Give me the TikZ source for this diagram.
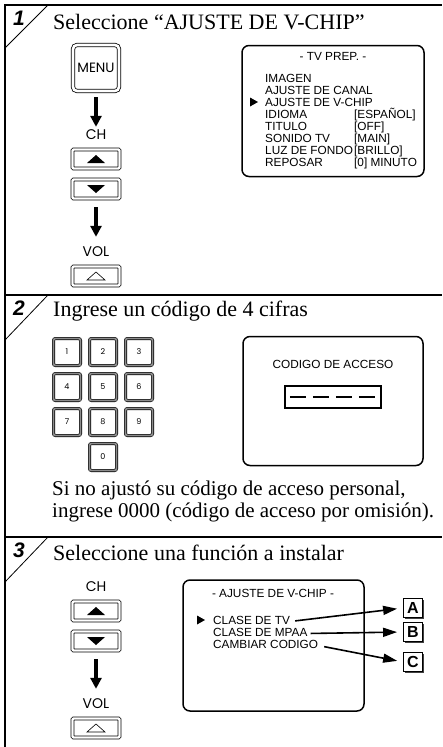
\documentclass[tikz,border=0pt]{standalone}
\usepackage{fontspec}
\setmainfont{Liberation Serif}
\setsansfont{Liberation Sans}
\newfontfamily\keyfont{Poppins}
\usepackage{tikz}
\usetikzlibrary{arrows.meta,positioning,shadows}

\begin{document}
\begin{tikzpicture}[x=1pt, y=-1pt,
frame/.style={line width=1.8pt},
slash/.style={line width=0.8pt},
stepno/.style={inner sep=0pt, font=\sffamily\bfseries\itshape\fontsize{21}{21}\selectfont},
heading/.style={anchor=base west, inner sep=0pt, font=\fontsize{22}{22}\selectfont},
note/.style={anchor=base west, inner sep=0pt, font=\fontsize{21}{21}\selectfont},
btnlabel/.style={inner sep=0pt, font=\keyfont\fontsize{14}{14}\selectfont},
menukey/.style={draw, double=white, double distance=2.6pt, line width=0.8pt, rounded corners=4pt, minimum width=46, minimum height=46, inner sep=0pt, font=\keyfont\fontsize{13.5}{13.5}\selectfont},
chkey/.style={draw, double=white, double distance=2.4pt, line width=0.7pt, rounded corners=1pt, minimum width=47, minimum height=19, inner sep=0pt},
numkey/.style={draw, double=black!45, double distance=1.8pt, line width=0.6pt, rounded corners=2pt, minimum width=27, minimum height=27, font=\keyfont\fontsize{8}{8}\selectfont},
screen/.style={draw, line width=1.5pt, rounded corners=7pt},
item/.style={anchor=west, inner sep=0pt, text height=8.6pt, text depth=3pt, font=\sffamily\fontsize{11.8}{11.8}\selectfont},
caption/.style={inner sep=0pt, font=\sffamily\fontsize{11.8}{11.8}\selectfont},
letter/.style={draw, fill=white, line width=0.9pt, minimum size=19, inner sep=0pt, font=\sffamily\bfseries\fontsize{16}{16}\selectfont, drop shadow={shadow xshift=1.6pt, shadow yshift=-1.6pt, fill=black!75, opacity=1}},
down/.style={-{Triangle[length=11pt,width=11pt]}, line width=3.2pt},
pick/.style={-{Triangle[length=14pt,width=9pt]}, line width=1.6pt, shorten <=3pt, shorten >=6pt}
]
\useasboundingbox (0,0) rectangle (442,747);

% frame and step corners
\draw[frame] (5,747) -- (5,5) -- (442,5);
\draw[frame] (5,295) -- (442,295);
\draw[frame] (5,537) -- (442,537);
\draw[slash] (5,48) -- (48,5);
\draw[slash] (5,340) -- (48,295);
\draw[slash] (5,582) -- (48,537);

% step 1
\node[stepno] (no1) at (19,18) {1};
\node[heading] (head1) at (53,29) {Seleccione “AJUSTE DE V-CHIP”};
\node[menukey] (menu) at (96,68) {MENU};
\node[btnlabel] (ch1) at (96,135) {CH};
\node[chkey] (up1) at (96,159) {};
\node[chkey] (dn1) at (96,189) {};
\node[btnlabel] (vol1) at (96,252) {VOL};
\node[chkey] (vu1) at (96,276) {};
\fill (up1.center) ++(-9,4) -- ++(18,0) -- ++(-9,-8) -- cycle;
\fill (dn1.center) ++(-9,-4) -- ++(18,0) -- ++(-9,8) -- cycle;
\draw[line width=0.6pt] (vu1.center) ++(-9,4) -- ++(18,0) -- ++(-9,-8) -- cycle;
\draw[down, shorten <=6pt, shorten >=3pt] (menu) -- (ch1);
\draw[down, shorten <=8.5pt, shorten >=10pt] (dn1) -- (vol1);

\node[screen, minimum width=182, minimum height=131] (tv) at (333,111) {};
\node[caption] (tvtitle) at (333,56) {- TV PREP. -};
\node[item] (i1) at (265,79.5) {IMAGEN};
\node[item, below=0pt of i1.south west, anchor=north west] (i2) {AJUSTE DE CANAL};
\node[item, below=0pt of i2.south west, anchor=north west] (i3) {AJUSTE DE V-CHIP};
\node[item, below=0pt of i3.south west, anchor=north west] (i4) {IDIOMA};
\node[item, below=0pt of i4.south west, anchor=north west] (i5) {TITULO};
\node[item, below=0pt of i5.south west, anchor=north west] (i6) {SONIDO TV};
\node[item, below=0pt of i6.south west, anchor=north west] (i7) {LUZ DE FONDO};
\node[item, below=0pt of i7.south west, anchor=north west] (i8) {REPOSAR};
\coordinate (valx) at (354,0);
\node[item] (v4) at (i4.west -| valx) {[ESPAÑOL]};
\node[item] (v5) at (i5.west -| valx) {[OFF]};
\node[item] (v6) at (i6.west -| valx) {[MAIN]};
\node[item] (v7) at (i7.west -| valx) {[BRILLO]};
\node[item] (v8) at (i8.west -| valx) {[0] MINUTO};
\fill (i3.west) ++(-15,-6) -- ++(8,4.5) -- ++(-8,4.5) -- cycle;

% step 2
\node[stepno] (no2) at (19,308) {2};
\node[heading] (head2) at (53,316) {Ingrese un código de 4 cifras};
\foreach \n/\x/\y in {1/67/352, 2/103/352, 3/139/352, 4/67/387, 5/103/387, 6/139/387, 7/67/422, 8/103/422, 9/139/422, 0/103/457}
  \node[numkey] (key\n) at (\x,\y) {\n};

\node[screen, minimum width=180, minimum height=129] (code) at (333,401) {};
\node[caption] (codetitle) at (333,364) {CODIGO DE ACCESO};
\node[draw, line width=1.2pt, minimum width=96, minimum height=22] (field) at (333,397) {};
\draw[line width=1.2pt, dash pattern=on 16pt off 7pt] ([xshift=5.5pt]field.west) -- ([xshift=-5.5pt]field.east);

\node[note] (note1) at (52,495) {Si no ajustó su código de acceso personal,};
\node[note] (note2) at (52,517) {ingrese 0000 (código de acceso por omisión).};

% step 3
\node[stepno] (no3) at (19,550) {3};
\node[heading] (head3) at (53,560) {Seleccione una función a instalar};
\node[btnlabel] (ch3) at (96,587) {CH};
\node[chkey] (up3) at (96,611) {};
\node[chkey] (dn3) at (96,641) {};
\node[btnlabel] (vol3) at (96,704) {VOL};
\node[chkey] (vu3) at (96,728) {};
\fill (up3.center) ++(-9,4) -- ++(18,0) -- ++(-9,-8) -- cycle;
\fill (dn3.center) ++(-9,-4) -- ++(18,0) -- ++(-9,8) -- cycle;
\draw[line width=0.6pt] (vu3.center) ++(-9,4) -- ++(18,0) -- ++(-9,-8) -- cycle;
\draw[down, shorten <=8.5pt, shorten >=10pt] (dn3) -- (vol3);

\node[screen, minimum width=181, minimum height=131] (vchip) at (273.5,645.5) {};
\node[caption] (vchiptitle) at (273,593) {- AJUSTE DE V-CHIP -};
\node[item] (o1) at (213,621.5) {CLASE DE TV};
\node[item, below=0pt of o1.south west, anchor=north west] (o2) {CLASE DE MPAA};
\node[item, below=0pt of o2.south west, anchor=north west] (o3) {CAMBIAR CODIGO};
\fill (o1.west) ++(-16,-6) -- ++(8,4.5) -- ++(-8,4.5) -- cycle;

\node[letter] (boxA) at (413,608) {A};
\node[letter] (boxB) at (413,632) {B};
\node[letter] (boxC) at (413,662) {C};
\draw[pick, shorten <=5pt] (o1.east) -- (boxA.west);
\draw[pick] (o2.east) -- (boxB.west);
\draw[pick, shorten <=6pt] (o3.east) -- (boxC.west);
\end{tikzpicture}
\end{document}
